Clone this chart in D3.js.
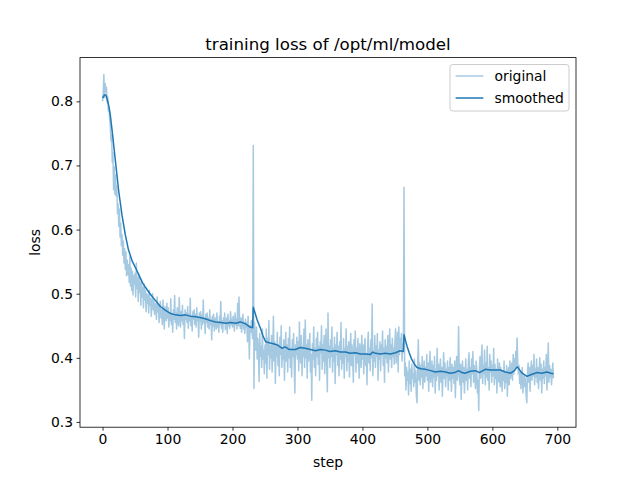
<!DOCTYPE html>
<html><head><meta charset="utf-8">
<script src="https://cdn.jsdelivr.net/npm/d3@7"></script>
<style>body{margin:0;background:#fff} svg{display:block}</style>
</head><body><svg id="c" width="640" height="480"></svg>
<script>
// original loss, one value per step
const loss000 = [
0.800,0.812,0.842,0.806,0.828,0.815,0.822,0.798,0.808,0.785,
0.790,0.772,0.760,0.738,0.748,0.705,0.720,0.662,0.698,0.655,
0.685,0.652,0.668,0.625,0.640,0.605,0.632,0.588,0.610,0.575,
0.592,0.560,0.582,0.548,0.570,0.538,0.565,0.528,0.552,0.530,
0.545,0.518,0.558,0.512,0.540,0.505,0.535,0.498,0.528,0.515];
const loss050 = [
0.532,0.495,0.548,0.508,0.525,0.488,0.530,0.502,0.518,0.482,
0.522,0.495,0.510,0.478,0.515,0.490,0.505,0.472,0.500,0.485,
0.498,0.470,0.505,0.482,0.492,0.465,0.488,0.500,0.475,0.490,
0.468,0.485,0.478,0.460,0.495,0.472,0.482,0.455,0.478,0.488,
0.462,0.475,0.452,0.490,0.468,0.445,0.480,0.470,0.458,0.485];
const loss100 = [
0.462,0.478,0.448,0.470,0.458,0.492,0.452,0.468,0.440,0.475,
0.460,0.497,0.455,0.470,0.445,0.478,0.462,0.450,0.494,0.465,
0.448,0.472,0.458,0.482,0.452,0.466,0.430,0.475,0.460,0.470,
0.455,0.480,0.446,0.468,0.458,0.493,0.450,0.465,0.442,0.472,
0.460,0.475,0.452,0.468,0.448,0.478,0.458,0.463,0.432,0.470];
const loss150 = [
0.458,0.472,0.445,0.466,0.452,0.490,0.455,0.462,0.438,0.468,
0.455,0.470,0.448,0.462,0.445,0.475,0.452,0.460,0.428,0.465,
0.450,0.468,0.442,0.458,0.462,0.445,0.470,0.448,0.455,0.440,
0.465,0.452,0.488,0.446,0.458,0.440,0.462,0.455,0.470,0.444,
0.456,0.462,0.438,0.468,0.450,0.458,0.446,0.472,0.452,0.460];
const loss200 = [
0.448,0.465,0.455,0.442,0.470,0.452,0.460,0.445,0.485,0.450,
0.495,0.455,0.446,0.462,0.440,0.458,0.468,0.445,0.452,0.438,
0.460,0.448,0.455,0.425,0.465,0.445,0.398,0.450,0.440,0.458,
0.442,0.430,0.731,0.352,0.455,0.425,0.412,0.448,0.398,0.430,
0.405,0.363,0.438,0.402,0.418,0.385,0.445,0.398,0.412,0.375];
const loss250 = [
0.420,0.392,0.445,0.368,0.430,0.405,0.458,0.382,0.418,0.400,
0.435,0.378,0.412,0.465,0.395,0.425,0.360,0.418,0.402,0.440,
0.388,0.420,0.372,0.432,0.405,0.450,0.385,0.415,0.398,0.428,
0.365,0.412,0.440,0.395,0.420,0.378,0.430,0.400,0.448,0.385,
0.415,0.370,0.428,0.402,0.438,0.388,0.345,0.420,0.405,0.432];
const loss300 = [
0.398,0.425,0.380,0.456,0.410,0.392,0.435,0.372,0.418,0.402,
0.445,0.385,0.459,0.400,0.420,0.368,0.428,0.395,0.412,0.438,
0.378,0.405,0.334,0.422,0.398,0.448,0.385,0.415,0.372,0.430,
0.402,0.440,0.390,0.418,0.365,0.425,0.408,0.450,0.382,0.420,
0.395,0.435,0.375,0.412,0.445,0.388,0.347,0.470,0.400,0.418];
const loss350 = [
0.385,0.428,0.402,0.448,0.378,0.415,0.395,0.432,0.360,0.420,
0.405,0.440,0.388,0.418,0.372,0.425,0.398,0.455,0.382,0.410,
0.392,0.430,0.368,0.415,0.402,0.445,0.380,0.418,0.395,0.425,
0.370,0.410,0.438,0.388,0.420,0.398,0.362,0.428,0.405,0.442,
0.378,0.415,0.392,0.430,0.400,0.368,0.422,0.408,0.385,0.435];
const loss400 = [
0.398,0.420,0.375,0.412,0.430,0.388,0.405,0.358,0.418,0.440,
0.392,0.415,0.380,0.428,0.400,0.484,0.372,0.410,0.395,0.435,
0.385,0.418,0.402,0.438,0.365,0.412,0.398,0.425,0.380,0.420,
0.405,0.442,0.388,0.415,0.362,0.428,0.400,0.418,0.392,0.435,
0.378,0.412,0.445,0.398,0.420,0.385,0.430,0.402,0.415,0.390];
const loss450 = [
0.425,0.445,0.392,0.418,0.440,0.378,0.448,0.405,0.430,0.415,
0.438,0.395,0.422,0.410,0.666,0.372,0.392,0.350,0.385,0.365,
0.378,0.342,0.395,0.360,0.382,0.348,0.390,0.368,0.375,0.355,
0.398,0.362,0.380,0.340,0.330,0.385,0.428,0.365,0.392,0.358,
0.388,0.370,0.402,0.352,0.378,0.395,0.362,0.385,0.372,0.405];
const loss500 = [
0.365,0.392,0.348,0.385,0.410,0.362,0.378,0.395,0.355,0.388,
0.370,0.402,0.345,0.382,0.365,0.415,0.372,0.390,0.350,0.380,
0.398,0.362,0.385,0.340,0.375,0.408,0.368,0.392,0.355,0.382,
0.372,0.395,0.350,0.385,0.365,0.400,0.375,0.348,0.390,0.368,
0.385,0.360,0.395,0.338,0.378,0.402,0.365,0.382,0.449,0.370];
const loss550 = [
0.358,0.390,0.335,0.378,0.395,0.362,0.385,0.345,0.372,0.398,
0.365,0.382,0.350,0.392,0.408,0.368,0.385,0.355,0.398,0.375,
0.410,0.362,0.388,0.372,0.352,0.395,0.380,0.345,0.365,0.318,
0.385,0.402,0.368,0.395,0.420,0.360,0.388,0.375,0.412,0.358,
0.392,0.370,0.418,0.365,0.385,0.350,0.405,0.378,0.395,0.362];
const loss600 = [
0.388,0.372,0.415,0.358,0.390,0.368,0.382,0.345,0.398,0.375,
0.362,0.392,0.355,0.385,0.370,0.348,0.380,0.365,0.395,0.352,
0.378,0.362,0.388,0.340,0.372,0.385,0.358,0.395,0.368,0.380,
0.392,0.365,0.405,0.375,0.398,0.382,0.410,0.388,0.431,0.395,
0.375,0.388,0.360,0.378,0.352,0.370,0.385,0.345,0.365,0.372];
const loss650 = [
0.355,0.368,0.340,0.330,0.375,0.392,0.362,0.385,0.348,0.380,
0.395,0.365,0.388,0.372,0.405,0.358,0.382,0.370,0.398,0.362,
0.385,0.352,0.378,0.400,0.365,0.390,0.345,0.382,0.368,0.395,
0.360,0.385,0.372,0.405,0.350,0.378,0.423,0.362,0.388,0.370,
0.382,0.358,0.375,0.392,0.368];

// smoothed curve, read at selected steps
const smoothSteps = [0,3,5,8,10,12,15,18,20,25,30,35,40,46,51,56,61,66,73,81,89,97,105,112,120,128,135,143,150,158,166,174,182,190,197,205,212,218,223,227,231,232,235,238,243,247,251,258,263,269,276,281,287,297,304,312,320,328,335,343,350,358,366,374,381,389,397,405,412,416,420,428,435,443,451,458,463,464,466,469,472,476,480,484,490,497,505,512,520,528,535,542,548,553,558,566,574,580,589,597,605,612,620,628,634,638,640,645,653,660,669,676,684,690,694];
const smoothLoss = [0.805,0.810,0.810,0.800,0.791,0.778,0.752,0.724,0.705,0.659,0.622,0.592,0.568,0.550,0.540,0.529,0.518,0.510,0.500,0.490,0.480,0.474,0.469,0.467,0.466,0.467,0.465,0.464,0.463,0.461,0.458,0.456,0.455,0.454,0.455,0.454,0.456,0.454,0.451,0.448,0.447,0.479,0.469,0.459,0.446,0.434,0.425,0.423,0.422,0.420,0.415,0.417,0.413,0.413,0.416,0.415,0.413,0.411,0.413,0.412,0.410,0.411,0.409,0.409,0.407,0.408,0.406,0.406,0.405,0.409,0.407,0.406,0.407,0.406,0.408,0.411,0.410,0.436,0.428,0.417,0.408,0.397,0.390,0.385,0.383,0.382,0.380,0.378,0.379,0.378,0.376,0.377,0.380,0.377,0.376,0.379,0.380,0.377,0.382,0.381,0.381,0.381,0.378,0.376,0.380,0.386,0.384,0.377,0.371,0.374,0.377,0.376,0.378,0.376,0.375];

const xTicks = [0,100,200,300,400,500,600,700];
const yTicks = [0.3,0.4,0.5,0.6,0.7,0.8];
const titleText = "training loss of /opt/ml/model";
const xLabel = "step", yLabel = "loss";
const legendLabels = ["original","smoothed"];

const original = [].concat(loss000,loss050,loss100,loss150,loss200,loss250,loss300,loss350,loss400,loss450,loss500,loss550,loss600,loss650);

const L = 80, R = 576, T = 57.6, B = 427.2;
const FONT = "DejaVu Sans, sans-serif";
const BLUE = "#1f77b4";

const svg = d3.select("#c");
const xMax = original.length - 1;
const x = d3.scaleLinear().domain([-0.05 * xMax, 1.05 * xMax]).range([L, R]);
const allY = original.concat(smoothLoss);
const [ymin, ymax] = d3.extent(allY);
const yp = 0.05 * (ymax - ymin);
const y = d3.scaleLinear().domain([ymin - yp, ymax + yp]).range([B, T]);

const g = svg.append("g");

// lines
g.append("path")
  .datum(original)
  .attr("fill", "none")
  .attr("stroke", BLUE)
  .attr("stroke-opacity", 0.4)
  .attr("stroke-width", 1.5)
  .attr("stroke-linejoin", "round")
  .attr("d", d3.line().x((d, i) => x(i)).y(d => y(d)));

g.append("path")
  .datum(smoothSteps.map((s, i) => [s, smoothLoss[i]]))
  .attr("fill", "none")
  .attr("stroke", BLUE)
  .attr("stroke-width", 1.5)
  .attr("stroke-linejoin", "round")
  .attr("d", d3.line().x(d => x(d[0])).y(d => y(d[1])));

// axes
const xAxis = svg.append("g").attr("transform", `translate(0,${B})`)
  .call(d3.axisBottom(x).tickValues(xTicks).tickFormat(d3.format("d")).tickSize(3.5).tickPadding(3.5));
const yAxis = svg.append("g").attr("transform", `translate(${L},0)`)
  .call(d3.axisLeft(y).tickValues(yTicks).tickFormat(d3.format(".1f")).tickSize(3.5).tickPadding(3.5));
[xAxis, yAxis].forEach(a => {
  a.select(".domain").remove();
  a.selectAll(".tick line").attr("stroke", "#000").attr("stroke-width", 0.8);
  a.selectAll(".tick text").attr("fill", "#000").style("font-family", FONT).style("font-size", "13.9px");
});

svg.append("rect").attr("x", L).attr("y", T).attr("width", R - L).attr("height", B - T)
  .attr("fill", "none").attr("stroke", "#000").attr("stroke-width", 0.8);

// title and labels
svg.append("text").attr("x", (L + R) / 2).attr("y", 49.5).attr("text-anchor", "middle")
  .style("font-family", FONT).style("font-size", "16.67px").text(titleText);
svg.append("text").attr("x", (L + R) / 2).attr("y", 467).attr("text-anchor", "middle")
  .style("font-family", FONT).style("font-size", "13.9px").text(xLabel);
svg.append("text").attr("transform", `translate(40,${(T + B) / 2}) rotate(-90)`).attr("text-anchor", "middle")
  .style("font-family", FONT).style("font-size", "13.9px").text(yLabel);

// legend
const lg = svg.append("g");
lg.append("rect").attr("x", 450).attr("y", 64.5).attr("width", 119).attr("height", 46.5)
  .attr("rx", 2.8).attr("fill", "#fff").attr("fill-opacity", 0.8)
  .attr("stroke", "#cccccc").attr("stroke-width", 1);
legendLabels.forEach((lab, i) => {
  const cy = 76 + i * 22;
  lg.append("line").attr("x1", 455.6).attr("x2", 483.4).attr("y1", cy).attr("y2", cy)
    .attr("stroke", BLUE).attr("stroke-width", 1.5).attr("stroke-opacity", i === 0 ? 0.4 : 1);
  lg.append("text").attr("x", 494.5).attr("y", cy + 5)
    .style("font-family", FONT).style("font-size", "13.9px").text(lab);
});
</script>
</body></html>
